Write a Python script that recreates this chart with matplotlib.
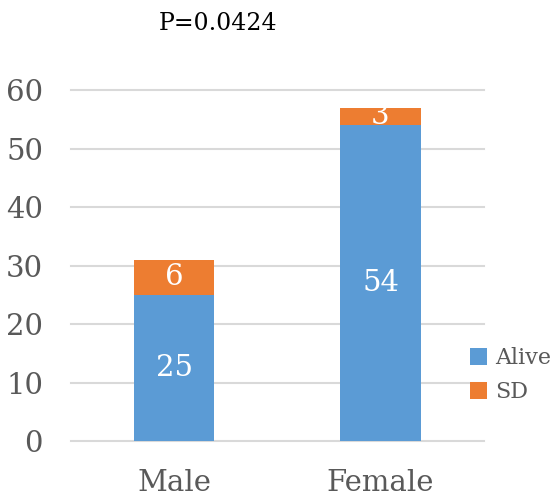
import matplotlib.pyplot as plt

groups = ['Male', 'Female']
alive = [25, 54]
sd = [6, 3]

plt.rcParams['font.family'] = 'DejaVu Serif'

fig = plt.figure(figsize=(5.58, 4.97), dpi=100)
ax = fig.add_axes([0.127, 0.1127, 0.74, 0.706])

blue = '#5B9BD5'
orange = '#ED7D31'
x = range(len(groups))
b1 = ax.bar(x, alive, width=0.39, color=blue, label='Alive', zorder=3)
b2 = ax.bar(x, sd, width=0.39, bottom=alive, color=orange, label='SD', zorder=3)

ax.bar_label(b1, labels=[str(v) for v in alive], label_type='center',
             color='white', fontsize=21)
ax.bar_label(b2, labels=[str(v) for v in sd], label_type='center',
             color='white', fontsize=21)

ax.set_xlim(-0.5, 1.5)
ax.set_ylim(0, 60)
ax.set_yticks(range(0, 61, 10))
ax.set_xticks(list(x))
ax.set_xticklabels(groups)
ax.grid(axis='y', color='#D9D9D9', linewidth=1.5, zorder=0)
for gl in ax.get_ygridlines():
    gl.set_clip_on(False)
for s in ax.spines.values():
    s.set_visible(False)
ax.tick_params(axis='both', length=0, colors='#595959', labelsize=21)
ax.tick_params(axis='y', pad=20)
ax.tick_params(axis='x', pad=20)

fig.text(0.39, 0.953, 'P=0.0424', ha='center', va='center', fontsize=17, color='black')

leg = fig.legend(handles=[b1, b2], loc='center left', frameon=False, fontsize=16,
                 handlelength=0.75, handleheight=0.75, handletextpad=0.35,
                 labelspacing=0.55, borderaxespad=0, borderpad=0,
                 labelcolor='#595959')
leg.set_bbox_to_anchor((0.843, 0.245), transform=fig.transFigure)

fig.savefig('out.png', dpi=100)
